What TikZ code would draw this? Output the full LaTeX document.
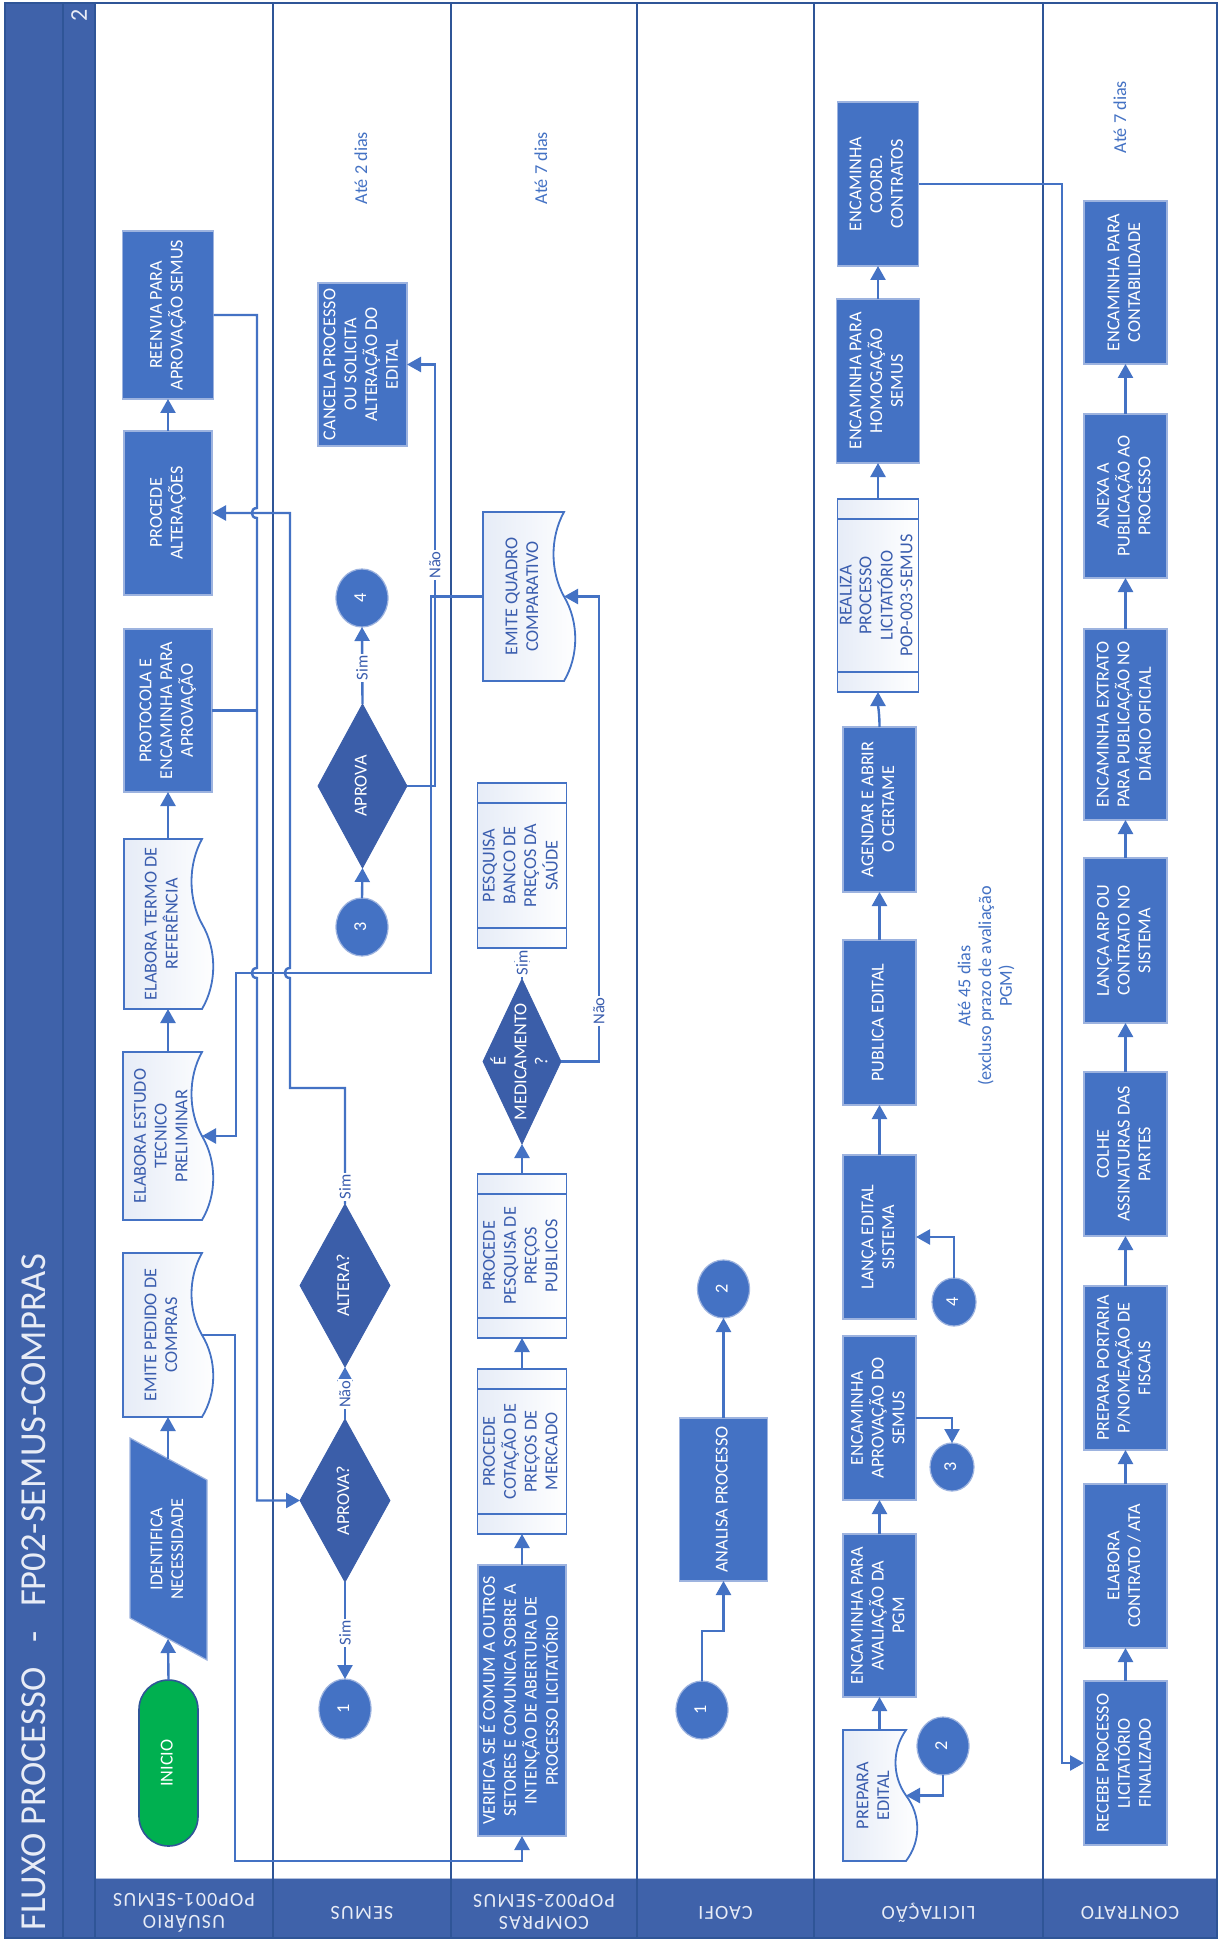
\documentclass[tikz,border=0pt]{standalone}
\usepackage{fontspec}
\setmainfont{Carlito}
\usetikzlibrary{shapes.geometric,arrows.meta,calc}
\definecolor{boxfill}{HTML}{4472C4}
\definecolor{boxedge}{HTML}{9DB3DF}
\definecolor{diafill}{HTML}{3B5EA9}
\definecolor{linec}{HTML}{4472C4}
\definecolor{bandc}{HTML}{3F62AA}
\definecolor{divc}{HTML}{2F5597}
\definecolor{docL}{HTML}{E6ECF7}
\definecolor{doctext}{HTML}{3A5DAE}
\definecolor{inicioc}{HTML}{00B050}
\definecolor{notec}{HTML}{4472C4}
\definecolor{hdrtext}{HTML}{E8ECF6}
\pgfdeclarelayer{back}
\pgfdeclarelayer{background}
\pgfsetlayers{back,background,main}
\newcommand\rt[1]{\rotatebox{90}{\begin{tabular}{@{}c@{}}#1\end{tabular}}}
\newcommand\rtf[1]{\rotatebox{180}{\begin{tabular}{@{}c@{}}#1\end{tabular}}}
\newcommand\docshape[1]{%
 \begin{pgfonlayer}{background}
 \draw[draw=linec, line width=0.9pt, left color=docL, right color=white]
   let \p1=(#1.north west), \p2=(#1.south east), \p3=($(#1.south)-(#1.north)$) in
   (\x1,\y1) -- (\x2,\y1)
   .. controls (\x2-7pt,\y1+0.15*\y3) and (\x2-7pt,\y1+0.35*\y3) .. (\x2,\y1+0.5*\y3)
   .. controls (\x2+7.5pt,\y1+0.65*\y3) and (\x2+7.5pt,\y1+0.85*\y3) .. (\x2,\y2)
   -- (\x1,\y2) -- cycle;
 \end{pgfonlayer}}
\newcommand\preline[1]{%
 \draw[linec, line width=0.9pt] ($(#1.north west)+(0,20)$) -- ($(#1.north east)+(0,20)$)
   ($(#1.south west)+(0,-20)$) -- ($(#1.south east)+(0,-20)$);}
\tikzset{
 sz/.style 2 args={minimum width=#1*0.5pt, minimum height=#2*0.5pt},
 bnode/.style={inner sep=0pt, outer sep=0pt, font=\fontsize{9.1}{10.4}\selectfont},
 box/.style={bnode, rectangle, fill=boxfill, draw=boxedge, line width=0.6pt, text=white},
 pre/.style={bnode, rectangle, draw=linec, line width=0.9pt, left color=docL, right color=white, text=doctext},
 docn/.style={bnode, rectangle, text=doctext},
 dia/.style={bnode, diamond, fill=diafill, draw=diafill},
 circ/.style={bnode, ellipse, fill=boxfill, draw=boxedge, line width=0.6pt, text=white},
 conn/.style={draw=linec, line width=1.2pt, -{Triangle[length=7pt,width=7.5pt]}},
 plainc/.style={draw=linec, line width=1.2pt},
 lab/.style={font=\fontsize{8.3}{9}\selectfont, text=doctext, fill=white, inner sep=0.8pt, rotate=90},
 note/.style={bnode, text=notec},
 hdr/.style={inner sep=0pt, text=hdrtext, font=\fontsize{10}{11}\selectfont\addfontfeatures{LetterSpace=6}},
 dtext/.style={bnode, text=white},
}
\begin{document}
\begin{tikzpicture}[x=0.5pt,y=-0.5pt]
\useasboundingbox (0,0) rectangle (1222,1941);
\begin{pgfonlayer}{back}
 \fill[white] (0,0) rectangle (1222,1941);
 \fill[bandc] (5,3) rectangle (95,1938);
 \fill[bandc] (95,1878) rectangle (1217,1938);
 \draw[white!60!bandc, line width=0.5pt] (95,1878) -- (1217,1878);
 \foreach \xx in {63,95,273,451,637,814,1043} \draw[divc, line width=1.1pt] (\xx,3) -- (\xx,1938);
 \draw[divc, line width=1.4pt] (5,3) rectangle (1217,1938);
\end{pgfonlayer}

% title and headers
\node[inner sep=0pt, text=hdrtext, font=\fontsize{18.3}{21}\selectfont, rotate=90, anchor=west] (title) at (34,1931) {FLUXO PROCESSO\ \ \ -\ \ \ FP02-SEMUS-COMPRAS};
\node[inner sep=0pt, text=hdrtext, font=\fontsize{12}{14}\selectfont, rotate=90] (pg) at (79,15) {2};
\node[hdr] (hu) at (184,1910) {\rtf{USUÁRIO\\POP001-SEMUS}};
\node[hdr] (hs) at (362,1911) {\rtf{SEMUS}};
\node[hdr] (hc) at (544,1910) {\rtf{COMPRAS\\POP002-SEMUS}};
\node[hdr] (hca) at (725.5,1911) {\rtf{CAOFI}};
\node[hdr] (hl) at (928.5,1911) {\rtf{LICITAÇÃO}};
\node[hdr] (hct) at (1130,1911) {\rtf{CONTRATO}};

% USUARIO lane
\node[box, sz={91}{168}] (reenvia) at (168,315) {\rt{REENVIA PARA\\APROVAÇÃO SEMUS}};
\node[box, sz={88}{164}] (procede) at (168,513) {\rt{PROCEDE\\ALTERAÇÕES}};
\node[box, sz={88}{163}] (protocola) at (168,710.5) {\rt{PROTOCOLA E\\ENCAMINHA PARA\\APROVAÇÃO}};
\node[docn, sz={78}{170}] (termo) at (163,924) {\rt{ELABORA TERMO DE\\REFERÊNCIA}};
\node[docn, sz={79}{168}] (estudo) at (162.5,1136) {\rt{ELABORA ESTUDO\\TECNICO\\PRELIMINAR}};
\node[docn, sz={79}{164}] (emite) at (162.5,1335) {\rt{EMITE PEDIDO DE\\COMPRAS}};
\docshape{termo}
\docshape{estudo}
\docshape{emite}
\filldraw[fill=boxfill, draw=boxedge, line width=0.6pt] (130,1438) -- (207,1480) -- (207,1660) -- (130,1618) -- cycle;
\node[dtext, sz={77}{170}] (ident) at (168.5,1549) {\rt{IDENTIFICA\\NECESSIDADE}};
\coordinate (identT) at (168,1459);
\coordinate (identB) at (168,1639);
\node[bnode, rectangle, rounded corners=14.75pt, fill=inicioc, draw=divc, line width=0.8pt, text=white, sz={59}{166}] (inicio) at (168.5,1763) {\rt{INICIO}};

% SEMUS lane
\node[box, sz={89}{163}] (cancela) at (362.5,364.5) {\rt{CANCELA PROCESSO\\OU SOLICITA\\ALTERAÇÃO DO\\EDITAL}};
\node[circ, sz={52}{58}] (c4s) at (362,598) {\rt{4}};
\node[dia, sz={89}{164}, label={[dtext]center:\rt{APROVA}}] (aprova) at (362.5,786) {};
\node[circ, sz={52}{58}] (c3s) at (362,927) {\rt{3}};
\node[dia, sz={90}{163}, label={[dtext]center:\rt{ALTERA?}}] (altera) at (345,1285.5) {};
\node[dia, sz={90}{163}, label={[dtext]center:\rt{APROVA?}}] (aprovaq) at (345,1500.5) {};
\node[circ, sz={52}{60}] (c1s) at (345,1709) {\rt{1}};

% COMPRAS lane
\node[docn, sz={81}{169}] (quadro) at (523.5,596.5) {\rt{EMITE QUADRO\\COMPARATIVO}};
\docshape{quadro}
\node[pre, sz={89}{165}] (banco) at (522,865.5) {\rt{PESQUISA\\BANCO DE\\PREÇOS DA\\SAÚDE}};
\preline{banco}
\node[dia, sz={78}{165}, label={[dtext]center:\rt{É\\MEDICAMENTO\\?}}] (med) at (522,1061.5) {};
\node[pre, sz={89}{164}] (publicos) at (522,1256) {\rt{PROCEDE\\PESQUISA DE\\PREÇOS\\PUBLICOS}};
\preline{publicos}
\node[pre, sz={89}{165}] (cotacao) at (522,1451.5) {\rt{PROCEDE\\COTAÇÃO DE\\PREÇOS DE\\MERCADO}};
\preline{cotacao}
\node[box, sz={88}{271}, font=\fontsize{9}{10.4}\selectfont] (verifica) at (522,1700.5) {\rt{VERIFICA SE É COMUM A OUTROS\\SETORES E COMUNICA SOBRE A\\INTENÇÃO DE ABERTURA DE\\PROCESSO LICITATÓRIO}};

% CAOFI lane
\node[circ, sz={52}{58}] (c2c) at (723.5,1289) {\rt{2}};
\node[box, sz={88}{163}] (analisa) at (723.5,1499.5) {\rt{ANALISA PROCESSO}};
\node[circ, sz={52}{58}] (c1c) at (702,1710) {\rt{1}};

% LICITACAO lane
\node[box, sz={81}{164}] (coord) at (878,184) {\rt{ENCAMINHA\\COORD.\\CONTRATOS}};
\node[box, sz={83}{164}] (homog) at (878,381) {\rt{ENCAMINHA PARA\\HOMOGAÇÃO\\SEMUS}};
\node[pre, sz={81}{193}, font=\fontsize{9.1}{9.9}\selectfont] (realiza) at (878,595.5) {\rt{REALIZA\\PROCESSO\\LICITATÓRIO\\POP-003-SEMUS}};
\preline{realiza}
\node[box, sz={73}{165}] (agendar) at (879.5,809.5) {\rt{AGENDAR E ABRIR\\O CERTAME}};
\node[box, sz={73}{165}] (publica) at (879.5,1022.5) {\rt{PUBLICA EDITAL}};
\node[box, sz={73}{164}] (lanca) at (879.5,1237) {\rt{LANÇA EDITAL\\SISTEMA}};
\node[box, sz={73}{164}] (encaprov) at (879.5,1418) {\rt{ENCAMINHA\\APROVAÇÃO DO\\SEMUS}};
\node[box, sz={73}{163}] (pgm) at (879.5,1615.5) {\rt{ENCAMINHA PARA\\AVALIAÇÃO DA\\PGM}};
\node[docn, sz={63}{131}] (prepara) at (874.5,1795.5) {\rt{PREPARA\\EDITAL}};
\docshape{prepara}
\node[circ, sz={52}{58}] (c2l) at (943,1746) {\rt{2}};
\node[circ, sz={44}{48}] (c3l) at (952,1467) {\rt{3}};
\node[circ, sz={44}{48}] (c4l) at (954,1302) {\rt{4}};

% CONTRATO lane
\node[box, sz={83}{163}] (contab) at (1125.5,282.5) {\rt{ENCAMINHA PARA\\CONTABILIDADE}};
\node[box, sz={83}{164}] (anexa) at (1125.5,496) {\rt{ANEXA A\\PUBLICAÇÃO AO\\PROCESSO}};
\node[box, sz={83}{191}] (extrato) at (1125.5,724.5) {\rt{ENCAMINHA EXTRATO\\PARA PUBLICAÇÃO NO\\DIÁRIO OFICIAL}};
\node[box, sz={83}{165}] (arp) at (1125.5,940.5) {\rt{LANÇA ARP OU\\CONTRATO NO\\SISTEMA}};
\node[box, sz={83}{164}] (colhe) at (1125.5,1154) {\rt{COLHE\\ASSINATURAS DAS\\PARTES}};
\node[box, sz={83}{164}] (portaria) at (1125.5,1368) {\rt{PREPARA PORTARIA\\P/NOMEAÇÃO DE\\FISCAIS}};
\node[box, sz={83}{164}] (elabora) at (1125.5,1566) {\rt{ELABORA\\CONTRATO / ATA}};
\node[box, sz={83}{164}] (recebe) at (1125.5,1763) {\rt{RECEBE PROCESSO\\LICITATÓRIO\\FINALIZADO}};

% notes
\node[note] (n1) at (363,168) {\rt{Até 2 dias}};
\node[note] (n2) at (543,168) {\rt{Até 7 dias}};
\node[note] (n3) at (987,986) {\rt{Até 45 dias\\(excluso prazo de avaliação\\PGM)}};
\node[note] (n4) at (1122,117) {\rt{Até 7 dias}};

% connectors - USUARIO
\draw[conn] (inicio.north) -- (identB);
\draw[conn] (identT) -- (emite.south -| procede.south);
\draw[conn] (estudo.north -| procede.south) -- (termo.south -| procede.south);
\draw[conn] (termo.north -| procede.south) -- (protocola.south);
\draw[conn] (procede.north) -- (reenvia.south);
\draw[conn] (reenvia.east) -- (257,315) -- (257,508) .. controls (250,508) and (250,518) .. (257,518)
   -- (257,968) .. controls (250,968) and (250,978) .. (257,978) -- (257,1500.5) -- (aprovaq.west);
\draw[plainc] (protocola.east) -- (257,710.5);
\draw[conn] (altera.north) -- (345,1088) -- (290,1088) -- (290,978) .. controls (283,978) and (283,968) .. (290,968)
   -- (290,513) -- (procede.east);
\draw[conn] (aprovaq.north) -- (altera.south);
\draw[conn] (aprovaq.south) -- (c1s.north);
\draw[conn] (emite.east) -- (235,1335) -- (235,1861) -- (522,1861) -- (verifica.south);
% SEMUS
\draw[conn] (aprova.east) -- (435,786) -- (435,364.5) -- (cancela.east);
\draw[conn] (aprova.north) -- (c4s.south);
\draw[conn] (c3s.north) -- (aprova.south);
% COMPRAS
\draw[conn] (verifica.north) -- (cotacao.south);
\draw[conn] (cotacao.north) -- (publicos.south);
\draw[conn] (publicos.north) -- (med.south);
\draw[conn] (med.north) -- (banco.south);
\draw[conn] (med.east) -- (599,1061.5) -- (599,596.5) -- (quadro.east);
\draw[conn] (quadro.west) -- (431,596.5) -- (431,973) -- (236,973) -- (236,1136) -- (estudo.east);
% CAOFI
\draw[conn] (c1c.north) -- (702,1631) -- (723.5,1631) -- (analisa.south);
\draw[conn] (analisa.north) -- (c2c.south);
% LICITACAO
\draw[conn] (c2l.south) -- (943,1795.5) -- (prepara.east);
\draw[conn] (prepara.north -| pgm.south) -- (pgm.south);
\draw[conn] (pgm.north) -- (encaprov.south);
\draw[conn] (encaprov.east) -- (952,1418) -- (c3l.north);
\draw[conn] (c4l.north) -- (954,1237) -- (lanca.east);
\draw[conn] (lanca.north) -- (publica.south);
\draw[conn] (publica.north) -- (agendar.south);
\draw[conn] (agendar.north) to[out=90,in=-90] (realiza.south);
\draw[conn] (realiza.north) -- (homog.south);
\draw[conn] (homog.north) -- (coord.south);
\draw[conn] (coord.east) -- (1062,184) -- (1062,1763) -- (recebe.west);
% CONTRATO
\draw[conn] (recebe.north) -- (elabora.south);
\draw[conn] (elabora.north) -- (portaria.south);
\draw[conn] (portaria.north) -- (colhe.south);
\draw[conn] (colhe.north) -- (arp.south);
\draw[conn] (arp.north) -- (extrato.south);
\draw[conn] (extrato.north) -- (anexa.south);
\draw[conn] (anexa.north) -- (contab.south);

% connector labels
\node[lab] (ls1) at (362,668) {Sim};
\node[lab] (ln1) at (435,565) {Não};
\node[lab] (ls2) at (345,1187) {Sim};
\node[lab] (ln2) at (345,1394) {Não};
\node[lab] (ls3) at (345,1633) {Sim};
\node[lab] (ls4) at (522,963) {Sim};
\node[lab] (ln3) at (599,1011) {Não};
\end{tikzpicture}
\end{document}
